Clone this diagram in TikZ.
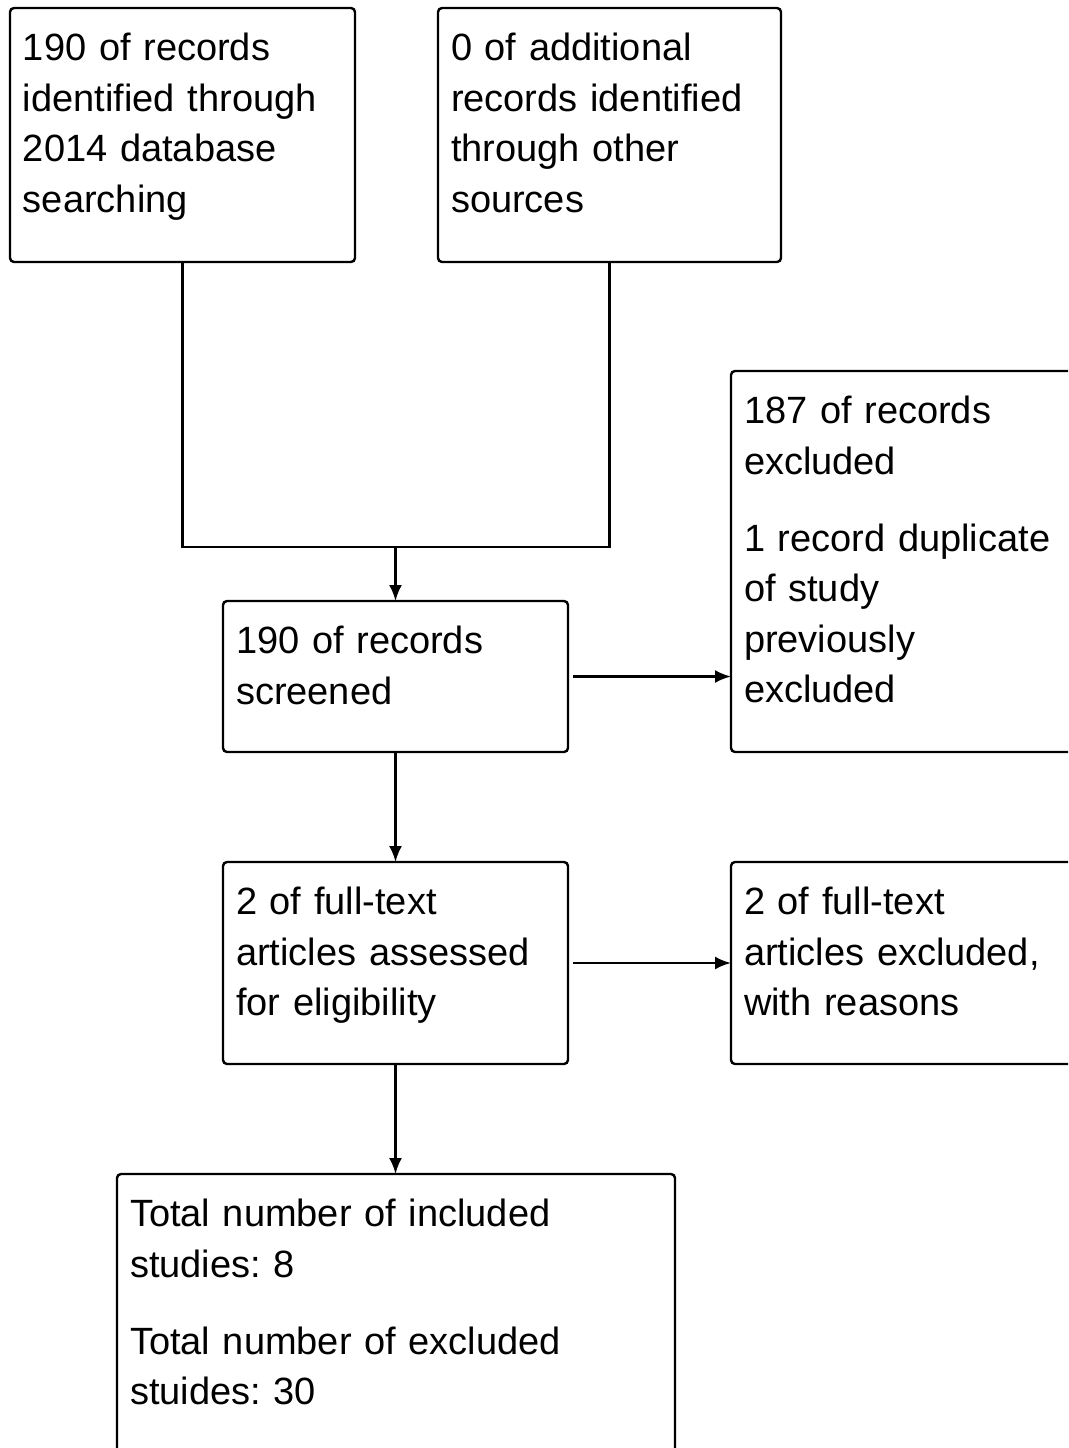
\documentclass[tikz,border=0pt]{standalone}
\usepackage{fontspec}
\setmainfont{Liberation Sans}
\frenchspacing
\usetikzlibrary{positioning,arrows.meta}

\begin{document}
\begin{tikzpicture}[x=1pt,y=-1pt]
	\tikzstyle{every node}=[font=\fontsize{38}{50.5}\selectfont]
	\tikzstyle{box}=[draw,line width=2.4pt,rounded corners=4pt,anchor=north west,align=left,
		inner xsep=13pt,inner ysep=0pt,outer sep=0pt,text height=52.6pt]
	\tikzstyle{link}=[draw,line width=2.4pt,->,>={Latex[length=16pt,width=13pt]}]

	\useasboundingbox (0,0) rectangle (1068,1448);
	\clip (0,0) rectangle (1068,1448);

	\node[box,text width=319pt,text depth=201.4pt] (R) at (10,8)
		{190 of records\\identified through\\2014 database\\searching};
	\node[box,text width=317pt,text depth=201.4pt] (A) at (438,8)
		{0 of additional\\records identified\\through other\\sources};
	\node[box,text width=319pt,text depth=98.4pt] (S) at (223,601)
		{190 of records\\screened};
	\node[box,text width=334pt,text depth=328.4pt] (X) at (731,371)
		{187 of records\\excluded\\[26.5pt]1 record duplicate\\of study\\previously\\excluded};
	\node[box,text width=319pt,text depth=149.4pt] (F) at (223,862)
		{2 of full-text\\articles assessed\\for eligibility};
	\node[box,text width=334pt,text depth=149.4pt] (E) at (731,862)
		{2 of full-text\\articles excluded,\\with reasons};
	\node[box,text width=532pt,text depth=247.4pt] (T) at (117,1174)
		{Total number of included\\studies: 8\\[26.5pt]Total number of excluded\\stuides: 30};

	\coordinate (M) at (S.north |- 0,547);
	\draw[line width=2.4pt] (R.south) |- (M) -| (A.south);
	\draw[link] (M) -- (S.north);
	\draw[link] ([xshift=5pt]S.east) -- (S.east -| X.west);
	\draw[link] (S.south) -- (F.north);
	\draw[link] ([xshift=5pt]F.east) -- (E.west);
	\draw[link] (F.south) -- (T.north -| F.south);
\end{tikzpicture}
\end{document}
